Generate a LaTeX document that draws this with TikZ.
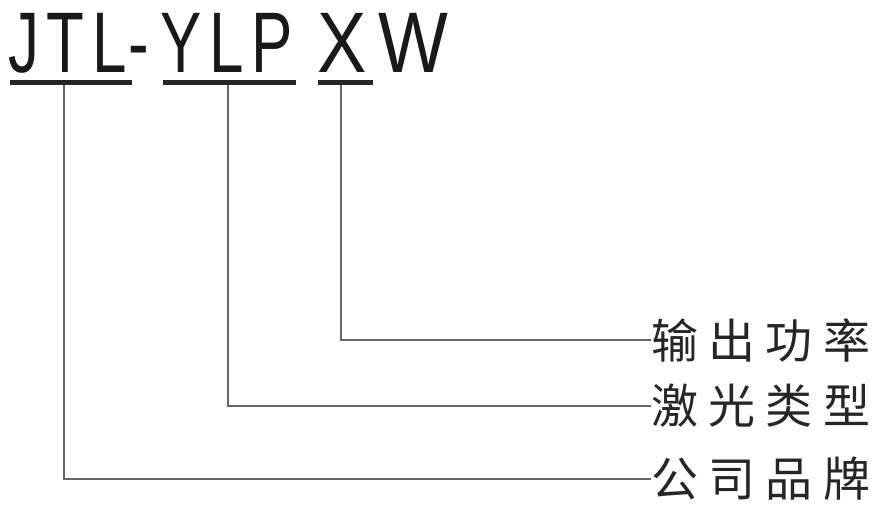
\documentclass[tikz,border=0pt]{standalone}
\usepackage{fontspec}
\newfontfamily\bigfont[FakeStretch=0.72,LetterSpace=9]{Liberation Sans}
\newfontfamily\bigwidefont[FakeStretch=0.86]{Liberation Sans}
\newfontfamily\cjk[LetterSpace=22]{Noto Sans CJK SC}
\begin{document}
\begin{tikzpicture}[x=1pt,y=-1pt,
  big/.style={inner sep=0pt,anchor=base west,text=black!90,font=\bigfont\fontsize{86}{86}\selectfont},
  bigwide/.style={inner sep=0pt,anchor=base west,text=black!90,font=\bigwidefont\fontsize{86}{86}\selectfont},
  lbl/.style={inner sep=0pt,anchor=west,text=black!85,font=\cjk\fontsize{47}{47}\selectfont},
  uline/.style={line width=4.5pt,black!85},
  lead/.style={line width=1.4pt,black!60}]
\useasboundingbox[fill=white] (0,0) rectangle (882,504);
\node[big] (jtl) at (8,72) {JTL};
\node[big] (dash) at (128,72) {-};
\node[big] (ylp) at (160,72) {YLP};
\node[bigwide] (x) at (317,72) {X};
\node[bigwide] (w) at (378,72) {W};
\draw[uline] (10,82.5) -- (132,82.5);
\draw[uline] (163,82.5) -- (296,82.5);
\draw[uline] (318,82.5) -- (373,82.5);
\coordinate (jtlu) at (64,85);
\coordinate (ylpu) at (228,85);
\coordinate (xu) at (341,85);
\node[lbl] (power) at (651,340) {输出功率};
\node[lbl] (laser) at (651,406) {激光类型};
\node[lbl] (brand) at (651,479) {公司品牌};
\draw[lead] (xu) |- (power.west);
\draw[lead] (ylpu) |- (laser.west);
\draw[lead] (jtlu) |- (brand.west);
\end{tikzpicture}
\end{document}
